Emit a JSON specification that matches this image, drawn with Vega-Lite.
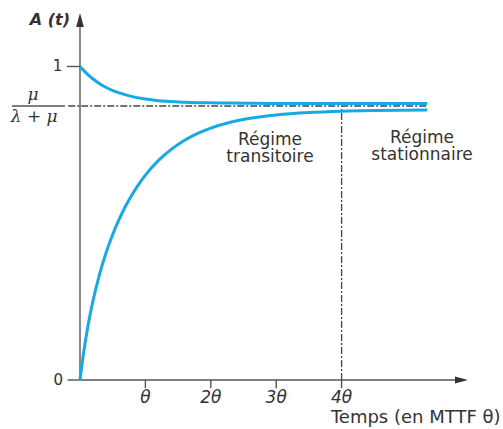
{
  "$schema": "https://vega.github.io/schema/vega-lite/v6.json",
  "width": 503,
  "height": 429,
  "padding": 0,
  "autosize": "none",
  "background": "white",
  "config": {"view": {"stroke": null}},
  "datasets": {
    "curves": [
      {"series": "up", "t": 0, "A": 1.0},
      {"series": "up", "t": 0.1, "A": 0.978},
      {"series": "up", "t": 0.2, "A": 0.96},
      {"series": "up", "t": 0.3, "A": 0.945},
      {"series": "up", "t": 0.4, "A": 0.933},
      {"series": "up", "t": 0.5, "A": 0.923},
      {"series": "up", "t": 0.6, "A": 0.916},
      {"series": "up", "t": 0.8, "A": 0.904},
      {"series": "up", "t": 1.0, "A": 0.896},
      {"series": "up", "t": 1.2, "A": 0.891},
      {"series": "up", "t": 1.5, "A": 0.887},
      {"series": "up", "t": 2.0, "A": 0.884},
      {"series": "up", "t": 2.5, "A": 0.883},
      {"series": "up", "t": 3.0, "A": 0.882},
      {"series": "up", "t": 5.31, "A": 0.882},
      {"series": "low", "t": 0, "A": 0},
      {"series": "low", "t": 0.03, "A": 0.0494},
      {"series": "low", "t": 0.06, "A": 0.0937},
      {"series": "low", "t": 0.1, "A": 0.1463},
      {"series": "low", "t": 0.15, "A": 0.2038},
      {"series": "low", "t": 0.2, "A": 0.2539},
      {"series": "low", "t": 0.3, "A": 0.338},
      {"series": "low", "t": 0.4, "A": 0.4065},
      {"series": "low", "t": 0.5, "A": 0.464},
      {"series": "low", "t": 0.6, "A": 0.513},
      {"series": "low", "t": 0.7, "A": 0.5557},
      {"series": "low", "t": 0.8, "A": 0.5927},
      {"series": "low", "t": 0.9, "A": 0.625},
      {"series": "low", "t": 1.0, "A": 0.6534},
      {"series": "low", "t": 1.2, "A": 0.7004},
      {"series": "low", "t": 1.4, "A": 0.7366},
      {"series": "low", "t": 1.6, "A": 0.7648},
      {"series": "low", "t": 1.8, "A": 0.7866},
      {"series": "low", "t": 2.0, "A": 0.8035},
      {"series": "low", "t": 2.3, "A": 0.822},
      {"series": "low", "t": 2.6, "A": 0.8347},
      {"series": "low", "t": 3.0, "A": 0.8456},
      {"series": "low", "t": 3.5, "A": 0.8533},
      {"series": "low", "t": 4.0, "A": 0.8574},
      {"series": "low", "t": 4.5, "A": 0.8595},
      {"series": "low", "t": 5.31, "A": 0.861}
    ],
    "axes": [
      {"x": 0, "x2": 5.8, "y": 0, "y2": 0},
      {"x": 0, "x2": 0, "y": 0, "y2": 1.13},
      {"x": 1, "x2": 1, "y": 0, "y2": -0.026},
      {"x": 2, "x2": 2, "y": 0, "y2": -0.026},
      {"x": 3, "x2": 3, "y": 0, "y2": -0.026},
      {"x": 4, "x2": 4, "y": 0, "y2": -0.026},
      {"x": -0.2, "x2": 0, "y": 1, "y2": 1},
      {"x": -0.19, "x2": 0, "y": 0, "y2": 0},
      {"x": -1.04, "x2": -0.23, "y": 0.874, "y2": 0.874}
    ],
    "dashes": [
      {"x": -0.18, "x2": 5.31, "y": 0.874, "y2": 0.874},
      {"x": 4, "x2": 4, "y": 0, "y2": 0.874}
    ],
    "arrowX": [{"x": 5.833, "y": 0}],
    "arrowY": [{"x": 0, "y": 1.148}],
    "ticklabels": [
      {"x": 1, "y": -0.058, "label": "θ"},
      {"x": 2, "y": -0.058, "label": "2θ"},
      {"x": 3, "y": -0.058, "label": "3θ"},
      {"x": 4, "y": -0.058, "label": "4θ"}
    ],
    "ylabels": [
      {"x": -0.27, "y": 1, "label": "1"},
      {"x": -0.26, "y": 0, "label": "0"}
    ],
    "fraction": [
      {"x": -0.72, "y": 0.91, "label": "μ"},
      {"x": -0.7, "y": 0.838, "label": "λ + μ"}
    ],
    "regimes": [
      {"x": 2.905, "y": 0.766, "label": "Régime\ntransitoire"},
      {"x": 5.23, "y": 0.772, "label": "Régime\nstationnaire"}
    ],
    "xtitle": [{"x": 6.43, "y": -0.121, "label": "Temps (en MTTF θ)"}],
    "ytitle": [{"x": -0.46, "y": 1.148, "label": "A (t)"}]
  },
  "layer": [
    {
      "data": {"name": "dashes"},
      "mark": {"type": "rule", "color": "#444444", "strokeWidth": 1.3, "strokeDash": [7, 2, 2, 2]},
      "encoding": {
        "x": {"field": "x", "type": "quantitative", "scale": {"domain": [-1.2232, 6.4679], "nice": false, "zero": false}, "axis": null},
        "x2": {"field": "x2"},
        "y": {"field": "y", "type": "quantitative", "scale": {"domain": [-0.1563, 1.2121], "nice": false, "zero": false}, "axis": null},
        "y2": {"field": "y2"}
      }
    },
    {
      "data": {"name": "axes"},
      "mark": {"type": "rule", "color": "#555555", "strokeWidth": 1.4},
      "encoding": {
        "x": {"field": "x", "type": "quantitative"},
        "x2": {"field": "x2"},
        "y": {"field": "y", "type": "quantitative"},
        "y2": {"field": "y2"}
      }
    },
    {
      "data": {"name": "curves"},
      "mark": {"type": "line", "strokeWidth": 3, "interpolate": "monotone", "color": "#17a9e6"},
      "encoding": {
        "x": {"field": "t", "type": "quantitative"},
        "y": {"field": "A", "type": "quantitative"},
        "detail": {"field": "series"}
      }
    },
    {
      "data": {"name": "arrowX"},
      "mark": {"type": "point", "shape": "M-1,-0.55L1,0L-1,0.55Z", "size": 169, "filled": true, "color": "#333333", "opacity": 1},
      "encoding": {
        "x": {"field": "x", "type": "quantitative"},
        "y": {"field": "y", "type": "quantitative"}
      }
    },
    {
      "data": {"name": "arrowY"},
      "mark": {"type": "point", "shape": "M-0.55,1L0,-1L0.55,1Z", "size": 196, "filled": true, "color": "#333333", "opacity": 1},
      "encoding": {
        "x": {"field": "x", "type": "quantitative"},
        "y": {"field": "y", "type": "quantitative"}
      }
    },
    {
      "data": {"name": "ticklabels"},
      "mark": {"type": "text", "font": "DejaVu Sans", "fontStyle": "italic", "fontSize": 17, "color": "#333333", "align": "center", "baseline": "middle"},
      "encoding": {
        "x": {"field": "x", "type": "quantitative"},
        "y": {"field": "y", "type": "quantitative"},
        "text": {"field": "label"}
      }
    },
    {
      "data": {"name": "ylabels"},
      "mark": {"type": "text", "font": "DejaVu Sans", "fontSize": 15, "color": "#333333", "align": "right", "baseline": "middle"},
      "encoding": {
        "x": {"field": "x", "type": "quantitative"},
        "y": {"field": "y", "type": "quantitative"},
        "text": {"field": "label"}
      }
    },
    {
      "data": {"name": "fraction"},
      "mark": {"type": "text", "font": "DejaVu Serif", "fontStyle": "italic", "fontSize": 17, "color": "#333333", "align": "center", "baseline": "middle"},
      "encoding": {
        "x": {"field": "x", "type": "quantitative"},
        "y": {"field": "y", "type": "quantitative"},
        "text": {"field": "label"}
      }
    },
    {
      "data": {"name": "regimes"},
      "mark": {"type": "text", "font": "DejaVu Sans", "fontSize": 17, "lineHeight": 17, "lineBreak": "\n", "color": "#333333", "align": "center", "baseline": "middle"},
      "encoding": {
        "x": {"field": "x", "type": "quantitative"},
        "y": {"field": "y", "type": "quantitative"},
        "text": {"field": "label"}
      }
    },
    {
      "data": {"name": "xtitle"},
      "mark": {"type": "text", "font": "DejaVu Sans", "fontSize": 18, "color": "#333333", "align": "right", "baseline": "middle"},
      "encoding": {
        "x": {"field": "x", "type": "quantitative"},
        "y": {"field": "y", "type": "quantitative"},
        "text": {"field": "label"}
      }
    },
    {
      "data": {"name": "ytitle"},
      "mark": {"type": "text", "font": "DejaVu Sans", "fontStyle": "italic", "fontWeight": "bold", "fontSize": 16, "color": "#333333", "align": "center", "baseline": "middle"},
      "encoding": {
        "x": {"field": "x", "type": "quantitative"},
        "y": {"field": "y", "type": "quantitative"},
        "text": {"field": "label"}
      }
    }
  ]
}
